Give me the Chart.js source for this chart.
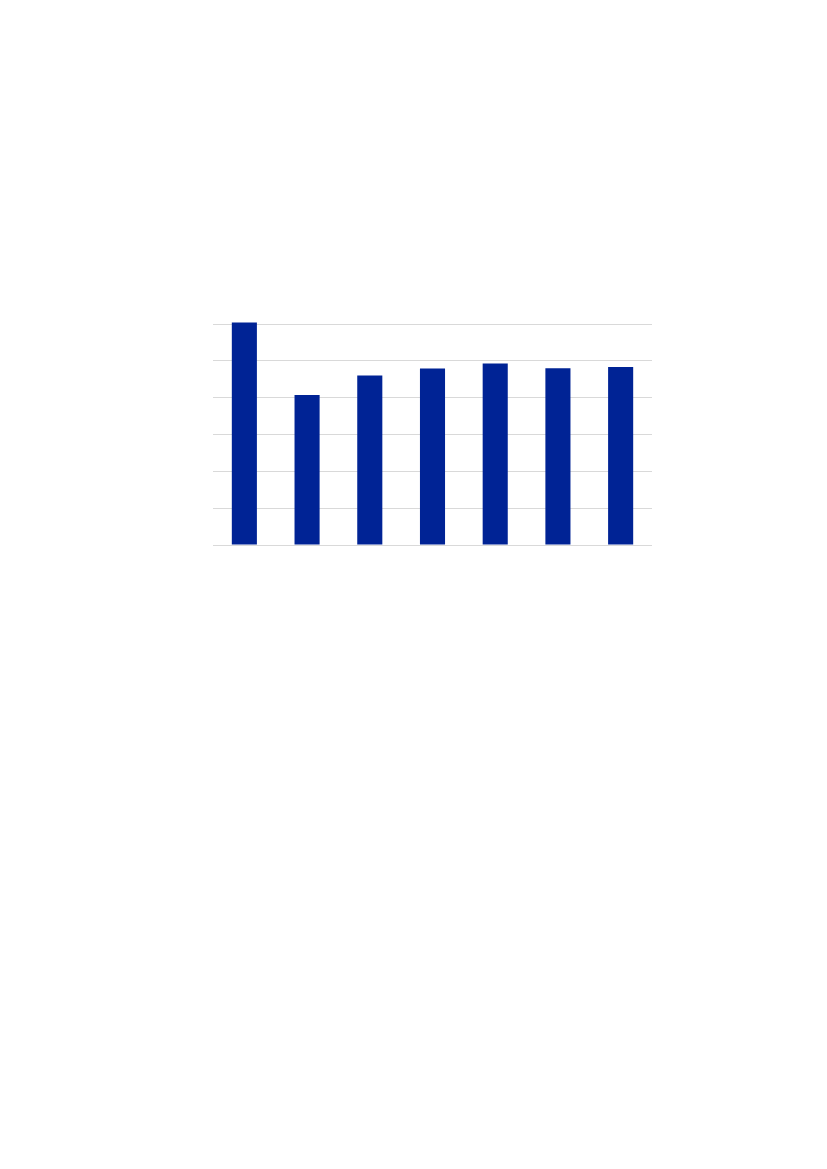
<!DOCTYPE html>
<html>
<head>
<meta charset="utf-8">
<script src="https://cdn.jsdelivr.net/npm/chart.js@4/dist/chart.umd.min.js"></script>
<style>
  html, body { margin: 0; padding: 0; background: #fff; }
  #chart { display: block; }
</style>
</head>
<body>
<canvas id="chart" width="827" height="1169"></canvas>
<script>
// categories are not labelled in the picture
const categories = ['1', '2', '3', '4', '5', '6', '7'];
const values = [6.04, 4.07, 4.6, 4.79, 4.93, 4.8, 4.83];
const yTicks = [0, 1, 2, 3, 4, 5, 6];

const ctx = document.getElementById('chart').getContext('2d');

new Chart(ctx, {
    type: 'bar',
    data: {
        labels: categories,
        datasets: [{
            data: values,
            backgroundColor: '#002395',
            borderWidth: 0,
            categoryPercentage: 1,
            barPercentage: 0.4,
            clip: false
        }]
    },
    options: {
        responsive: false,
        animation: false,
        devicePixelRatio: 1,
        layout: {
            padding: { left: 213, right: 175, top: 324, bottom: 624 }
        },
        plugins: {
            legend: { display: false },
            tooltip: { enabled: false }
        },
        scales: {
            x: {
                display: false
            },
            y: {
                min: yTicks[0],
                max: yTicks[yTicks.length - 1],
                afterBuildTicks: axis => {
                    axis.ticks = yTicks.map(v => ({ value: v }));
                },
                border: { display: false },
                grid: {
                    color: '#d9d9d9',
                    lineWidth: 1,
                    drawTicks: false
                },
                ticks: { display: false }
            }
        }
    }
});
</script>
</body>
</html>
